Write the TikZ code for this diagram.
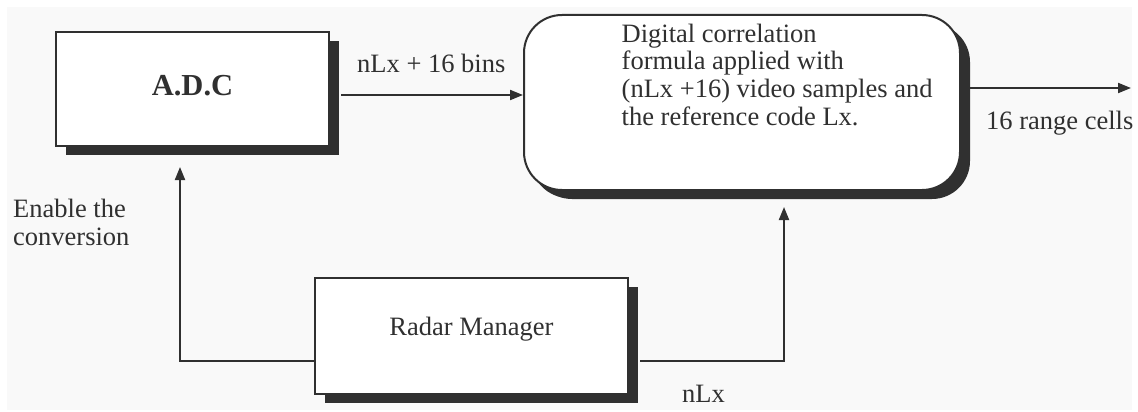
\documentclass[tikz,border=0pt]{standalone}
\usepackage{fontspec}
\setmainfont{Liberation Serif}
\usetikzlibrary{arrows.meta,calc,shadows}
\definecolor{ink}{HTML}{303030}
\definecolor{paper}{HTML}{F9F9F9}
\tikzset{
  txt/.style={font=\fontsize{26.5}{27.8}\selectfont, text=ink, inner sep=0pt},
  blk/.style={draw=ink, line width=2pt, fill=white, inner sep=0pt, txt,
    drop shadow={shadow xshift=10pt, shadow yshift=-9pt, fill=ink, opacity=1}},
  rblk/.style={blk, rounded corners=38pt,
    drop shadow={shadow xshift=7pt, shadow yshift=-8pt, fill=ink, opacity=1}},
  conn/.style={draw=ink, line width=2pt},
  arr/.style={conn, -{Triangle[length=13pt,width=10pt]}}
}
\begin{document}
\begin{tikzpicture}[x=1pt,y=-1pt]
\useasboundingbox (0,0) rectangle (1138,412);
\fill[white] (0,0) rectangle (1138,412);
\fill[paper] (7,7) rectangle (1132,410);

\node[blk, minimum width=273pt, minimum height=114pt,
      font=\fontsize{30.5}{32}\selectfont\bfseries, text height=20.6pt, text depth=8pt]
      (adc) at (192.5,89) {A.D.C};
\node[rblk, minimum width=436pt, minimum height=175pt] (corr) at (742,102.5) {};
\node[txt, anchor=north west, align=left] (corrtxt) at (621.5,23.5)
  {Digital correlation\\formula applied with\\(nLx +16) video samples and\\the reference code Lx.};
\node[blk, minimum width=313pt, minimum height=116pt, text height=18pt, text depth=20pt]
      (rm) at (471.5,336) {Radar Manager};

% ADC -> correlation
\coordinate (a1) at ($(adc.east)+(11,6)$);
\draw[arr] (a1) -- (a1 -| corr.west);
\node[txt, anchor=base west] (lbin) at (357,73) {nLx + 16 bins};

% output
\coordinate (o2) at (1131,88);
\draw[arr] ($(corr.east |- o2)+(8,0)$) -- (o2);
\node[txt, anchor=base west] (lout) at (986,129) {16 range cells};

% Radar manager -> ADC
\coordinate (l1) at (180,361);
\coordinate (l2) at ($(adc.south)+(0,20)$);
\draw[arr] (rm.west |- l1) -- (l1) -- (l1 |- l2);
\node[txt, anchor=north west, align=left] (len) at (13,199) {Enable the\\conversion};

% Radar manager -> correlation
\coordinate (r1) at (784,361);
\coordinate (r2) at ($(corr.south)+(0,16)$);
\draw[arr] ($(rm.east |- r1)+(11,0)$) -- (r1) -- (r1 |- r2);
\node[txt, anchor=base west] (lnlx) at (682,402) {nLx};
\end{tikzpicture}
\end{document}
